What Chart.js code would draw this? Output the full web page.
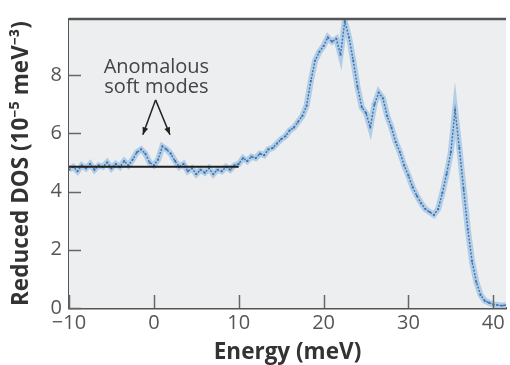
<!DOCTYPE html>
<html>
<head>
<meta charset="utf-8">
<script src="https://cdn.jsdelivr.net/npm/chart.js@4.4.0/dist/chart.umd.min.js"></script>
<style>
  html, body { margin: 0; padding: 0; background: #fff; }
  #wrap { width: 510px; height: 365px; position: relative; }
</style>
</head>
<body>
<div id="wrap"><canvas id="chartDos"></canvas></div>
<script>
'use strict';

// measured reduced density of states, energy in meV
var energy = [
  -10, -9.5, -9, -8.5, -8, -7.5, -7, -6.5, -6, -5.5,
  -5, -4.5, -4, -3.5, -3, -2.5, -2, -1.5, -1, -0.5,
  0, 0.5, 1, 1.5, 2, 2.5, 3, 3.5, 4, 4.5,
  5, 5.5, 6, 6.5, 7, 7.5, 8, 8.5, 9, 9.5,
  10, 10.5, 11, 11.5, 12, 12.5, 13, 13.5, 14, 14.5,
  15, 15.5, 16, 16.5, 17, 17.5, 18, 18.5, 19, 19.5,
  20, 20.5, 21, 21.5, 22, 22.5, 23, 23.5, 24, 24.5,
  25, 25.5, 26, 26.5, 27, 27.5, 28, 28.5, 29, 29.5,
  30, 30.5, 31, 31.5, 32, 32.5, 33, 33.5, 34, 34.5,
  35, 35.5, 36, 36.5, 37, 37.5, 38, 38.5, 39, 39.5,
  40, 40.5, 41, 41.5
];
var dos = [
  4.75, 4.85, 4.7, 4.9, 4.8, 4.95, 4.75, 4.9, 4.85, 5.0,
  4.8, 4.95, 4.85, 5.05, 4.9, 5.1, 5.35, 5.45, 5.3, 5.0,
  4.9, 5.1, 5.55, 5.45, 5.3, 5.05, 4.85, 4.95, 4.7, 4.8,
  4.6, 4.75, 4.65, 4.8, 4.6, 4.75, 4.7, 4.85, 4.75, 4.9,
  4.95, 5.15, 5.05, 5.2, 5.15, 5.3, 5.25, 5.45, 5.5, 5.65,
  5.8, 5.9, 6.1, 6.2, 6.4, 6.6, 6.95, 7.8, 8.5, 8.8,
  9.0, 9.3, 9.15, 9.25, 8.7, 9.85, 9.3, 8.5, 7.6, 6.9,
  6.7, 6.2, 7.0, 7.4, 7.2, 6.6, 6.2, 5.7, 5.35, 4.9,
  4.55, 4.15, 3.85, 3.6, 3.4, 3.3, 3.2, 3.4, 3.95, 4.6,
  5.35, 6.8, 5.5, 4.1, 2.7, 1.6, 0.9, 0.45, 0.25, 0.18,
  0.12, 0.1, 0.08, 0.1
];
// flat reference level below 10 meV
var baseEnergy = [-10, 10];
var baseDos = [4.85, 4.85];

var xTickValues = [-10, 0, 10, 20, 30, 40];
var yTickValues = [0, 2, 4, 6, 8];

var noteLines = ['Anomalous', 'soft modes'];

(function initDosChart() {
  var canvas = document.getElementById('chartDos');
  if (typeof window.Chart !== 'function') return;

  var toPoints = function (xs, ys) {
    return xs.map(function (x, i) { return { x: x, y: ys[i] }; });
  };

  var fontFamily = '"Open Sans", "Noto Sans", sans-serif';

  // plot background, top frame, inward ticks and the soft-mode note
  var decor = {
    id: 'decor',
    beforeDatasetsDraw: function (chart) {
      var a = chart.chartArea, ctx = chart.ctx;
      ctx.save();
      ctx.fillStyle = '#eceef0';
      ctx.fillRect(a.left, a.top, a.right - a.left, a.bottom - a.top);
      ctx.restore();
    },
    afterDatasetsDraw: function (chart) {
      var a = chart.chartArea, ctx = chart.ctx;
      var sx = chart.scales.x, sy = chart.scales.y;
      ctx.save();
      ctx.strokeStyle = '#555';
      ctx.lineWidth = 2.5;
      ctx.beginPath();
      ctx.moveTo(a.left, a.top);
      ctx.lineTo(a.right, a.top);
      ctx.stroke();

      ctx.strokeStyle = '#666';
      ctx.lineWidth = 1.5;
      xTickValues.forEach(function (v) {
        var px = Math.round(sx.getPixelForValue(v)) + 0.5;
        ctx.beginPath();
        ctx.moveTo(px, a.bottom);
        ctx.lineTo(px, a.bottom - 13);
        ctx.stroke();
      });
      yTickValues.forEach(function (v) {
        var py = Math.round(sy.getPixelForValue(v)) + 0.5;
        ctx.beginPath();
        ctx.moveTo(a.left, py);
        ctx.lineTo(a.left + 12, py);
        ctx.stroke();
      });

      // note text
      ctx.fillStyle = '#444';
      ctx.font = '20px ' + fontFamily;
      ctx.textAlign = 'center';
      ctx.textBaseline = 'middle';
      var tx = sx.getPixelForValue(0.3);
      ctx.fillText(noteLines[0], tx, sy.getPixelForValue(8.28));
      ctx.fillText(noteLines[1], tx, sy.getPixelForValue(7.58));

      // two arrows from a common apex
      var apex = { x: sx.getPixelForValue(0.2), y: sy.getPixelForValue(7.15) };
      var tips = [
        { x: sx.getPixelForValue(-1.3), y: sy.getPixelForValue(5.95) },
        { x: sx.getPixelForValue(1.9), y: sy.getPixelForValue(5.95) }
      ];
      ctx.strokeStyle = '#222';
      ctx.fillStyle = '#222';
      ctx.lineWidth = 1.5;
      tips.forEach(function (t) {
        ctx.beginPath();
        ctx.moveTo(apex.x, apex.y);
        ctx.lineTo(t.x, t.y);
        ctx.stroke();
        var ang = Math.atan2(t.y - apex.y, t.x - apex.x);
        var len = 8, half = 0.38;
        ctx.beginPath();
        ctx.moveTo(t.x, t.y);
        ctx.lineTo(t.x - len * Math.cos(ang - half), t.y - len * Math.sin(ang - half));
        ctx.lineTo(t.x - len * Math.cos(ang + half), t.y - len * Math.sin(ang + half));
        ctx.closePath();
        ctx.fill();
      });
      ctx.restore();
    }
  };

  new Chart(canvas.getContext('2d'), {
    type: 'line',
    data: {
      datasets: [{
        label: 'Reference level',
        data: toPoints(baseEnergy, baseDos),
        borderColor: '#1f1f1f',
        borderWidth: 2,
        pointRadius: 0,
        order: 0
      }, {
        label: 'Reduced DOS',
        data: toPoints(energy, dos),
        borderColor: '#3f72a8',
        borderWidth: 1.4,
        borderDash: [2, 1.5],
        pointStyle: 'rect',
        pointRadius: 1.3,
        pointBackgroundColor: '#3f72a8',
        pointBorderWidth: 0,
        order: 1
      }, {
        label: 'Error band',
        data: toPoints(energy, dos),
        borderColor: 'rgba(120, 172, 222, 0.5)',
        borderWidth: 6,
        pointRadius: 0,
        order: 2
      }]
    },
    options: {
      animation: false,
      responsive: true,
      maintainAspectRatio: false,
      layout: { padding: { top: 13, right: 0, left: 0, bottom: 0 } },
      plugins: { legend: { display: false }, tooltip: { enabled: false } },
      scales: {
        x: {
          type: 'linear',
          min: -10,
          max: 41.5,
          afterBuildTicks: function (scale) {
            scale.ticks = xTickValues.map(function (v) { return { value: v }; });
          },
          afterFit: function (scale) { scale.height = 57; },
          grid: { display: false, drawTicks: false },
          border: { color: '#555', width: 2.5 },
          ticks: {
            padding: 3,
            color: '#555',
            font: { family: fontFamily, size: 20 },
            callback: function (v) { return v < 0 ? '\u2212' + Math.abs(v) : String(v); }
          },
          title: {
            display: true,
            text: 'Energy (meV)',
            color: '#333',
            font: { family: fontFamily, size: 22.5, weight: 'bold' },
            padding: { top: 0, bottom: -1 }
          }
        },
        y: {
          min: 0,
          max: 9.93,
          afterBuildTicks: function (scale) {
            scale.ticks = yTickValues.map(function (v) { return { value: v }; });
          },
          afterFit: function (scale) { scale.width = 69; },
          grid: { display: false, drawTicks: false },
          border: { color: '#555', width: 2.5 },
          ticks: {
            padding: 7,
            color: '#555',
            font: { family: fontFamily, size: 20 }
          },
          title: {
            display: true,
            text: 'Reduced DOS (10\u207B\u2075 meV\u207B\u00B3)',
            color: '#333',
            font: { family: fontFamily, size: 22.5, weight: 'bold' },
            padding: { top: 8, bottom: 0 }
          }
        }
      }
    },
    plugins: [decor]
  });
})();
</script>
</body>
</html>
